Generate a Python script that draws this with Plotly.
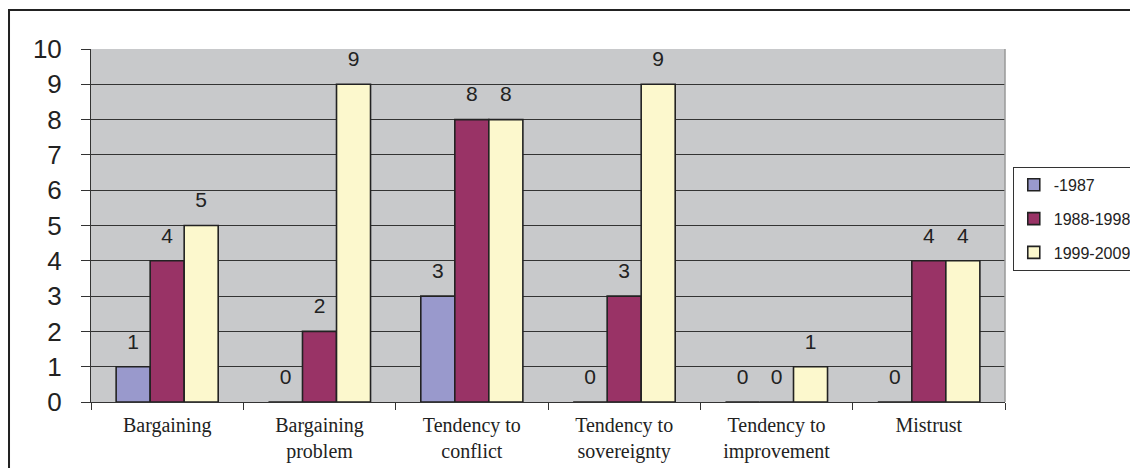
import plotly.graph_objects as go

categories = ["Bargaining", "Bargaining<br>problem", "Tendency to<br>conflict",
              "Tendency to<br>sovereignty", "Tendency to<br>improvement", "Mistrust"]
series_names = ["-1987", "1988-1998", "1999-2009"]
v_1987 = [1, 0, 3, 0, 0, 0]
v_1988_1998 = [4, 2, 8, 3, 0, 4]
v_1999_2009 = [5, 9, 8, 9, 1, 4]
series_values = [v_1987, v_1988_1998, v_1999_2009]
colors = ["#9999CC", "#993366", "#FCF8CD"]
y_ticks = list(range(0, 11))

fig = go.Figure()
for i, (name, vals, col) in enumerate(zip(series_names, series_values, colors)):
    fig.add_trace(go.Bar(
        x=categories, y=vals, name=name,
        marker=dict(color=col, line=dict(color="#222222", width=1.6)),
        legendgroup=name, offsetgroup=str(i),
    ))
for i, (name, vals) in enumerate(zip(series_names, series_values)):
    fig.add_trace(go.Scatter(
        x=categories, y=vals, mode="markers+text", text=[str(v) for v in vals],
        textposition="top center",
        textfont=dict(family="Liberation Sans, Arial", size=21, color="#222222"),
        marker=dict(size=19, color="rgba(0,0,0,0)"),
        showlegend=False, hoverinfo="skip", offsetgroup=str(i), cliponaxis=False,
    ))

fig.update_layout(
    width=1130, height=460,
    margin=dict(l=83, r=133, t=41, b=66, autoexpand=False),
    paper_bgcolor="white", plot_bgcolor="#C8C9CB",
    barmode="group", bargap=0.33, bargroupgap=0,
    scattermode="group", scattergap=0.33,
    font=dict(family="Liberation Sans, Arial", color="#222222"),
    legend=dict(
        x=1.0085, y=0.666, xanchor="left", yanchor="top",
        bgcolor="white", bordercolor="#333333", borderwidth=1,
        font=dict(size=16, color="#222222"),
        traceorder="grouped", tracegroupgap=10, itemwidth=30,
    ),
    showlegend=True,
)
fig.update_yaxes(
    range=[0, 10], tickvals=y_ticks, ticktext=[str(t) for t in y_ticks],
    showgrid=True, gridcolor="#333333", gridwidth=1,
    ticks="outside", ticklen=9, tickcolor="#333333",
    showline=True, linecolor="#333333", linewidth=1,
    tickfont=dict(size=26, family="Liberation Sans, Arial", color="#222222"),
    ticklabelstandoff=14, zeroline=False, fixedrange=True, automargin=False,
)
fig.update_xaxes(
    tickson="boundaries", ticks="outside", ticklen=7, tickcolor="#333333",
    showline=True, linecolor="#333333", linewidth=1, showgrid=False,
    tickfont=dict(size=20, family="Liberation Serif, Times New Roman", color="#222222"),
    ticklabelstandoff=5, fixedrange=True, automargin=False,
)
fig.add_shape(type="line", xref="paper", yref="paper", x0=1, x1=1, y0=0, y1=1,
              line=dict(color="#999999", width=1.5))
fig.add_shape(type="rect", xref="paper", yref="paper",
              x0=-0.0897, x1=1.1444, y0=-0.3, y1=1.1105,
              line=dict(color="#222222", width=2), layer="above")

fig.write_html("out.html")
